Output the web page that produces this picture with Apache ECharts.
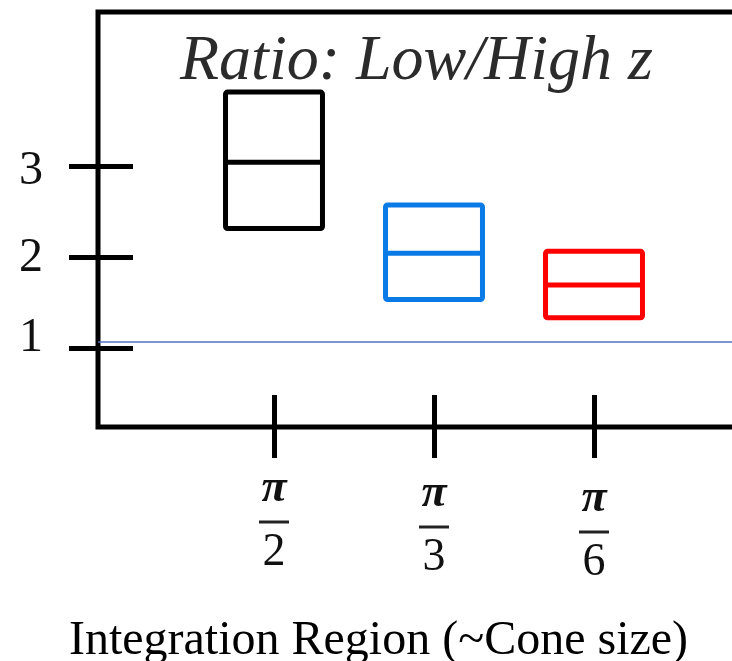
<!DOCTYPE html>
<html>
<head>
<meta charset="utf-8">
<script src="https://cdn.jsdelivr.net/npm/echarts@6/dist/echarts.min.js"></script>
<style>
  html, body { margin: 0; padding: 0; background: #fff; }
  #chart { width: 732px; height: 661px; }
</style>
</head>
<body>
<div id="chart"></div>
<script>
// cone sizes (x positions) and their fraction labels
const categories = ['π/2', 'π/3', 'π/6']
const denominators = ['2', '3', '6']
const xPositions = [1, 2, 3]

// ratio boxes: low edge, middle line, high edge
const boxLow = [2.31, 1.53, 1.33]
const boxMedian = [3.04, 2.04, 1.69]
const boxHigh = [3.81, 2.57, 2.06]
const boxColors = ['#000000', '#0a7be6', '#ff0000']

const yTicks = [1, 2, 3]
const refLine = 1.07

const chart = echarts.init(document.getElementById('chart'))

const serif = 'Liberation Serif'
const halfWidth = 0.303

// small hand offsets so labels sit where the drawing put them
const xLabelSpacer = ['s0', 's1', 's2']
const yLabelTemplate = {
  1: '{n|1}\n{b19| }',
  2: '{t3| }\n{n|2}',
  3: '{t11| }\n{n|3}'
}

const boxData = xPositions.map((x, i) => ({
  value: [x, boxLow[i], boxMedian[i], boxHigh[i]],
  name: categories[i]
}))

function fracLabel(value) {
  const i = xPositions.indexOf(value)
  return '{' + xLabelSpacer[i] + '| }\n{pi|π}\n{bar| }\n{den|' + denominators[i] + '}'
}

const xCommon = {
  type: 'value',
  min: -0.1,
  max: -0.1 + 639 / 160,
  position: 'bottom',
  axisLine: {show: false, onZero: false},
  splitLine: {show: false}
}

const yCommon = {
  type: 'value',
  min: 0.13,
  max: 4.69,
  position: 'left',
  axisLine: {show: false, onZero: false},
  splitLine: {show: false}
}

chart.setOption({
  animation: false,
  backgroundColor: '#fff',
  title: {
    text: 'Ratio: Low/High z',
    left: 175,
    top: 25,
    textStyle: {
      fontFamily: serif,
      fontStyle: 'italic',
      fontWeight: 'normal',
      fontSize: 64,
      color: '#2b2b2b'
    }
  },
  grid: {
    left: 98,
    top: 12,
    width: 639,
    height: 415,
    show: true,
    borderColor: '#000',
    borderWidth: 5,
    outerBoundsMode: 'none'
  },
  xAxis: [
    {
      ...xCommon,
      axisTick: {show: true, inside: true, length: 32, customValues: xPositions,
        lineStyle: {color: '#000', width: 5}},
      axisLabel: {show: false}
    },
    {
      ...xCommon,
      axisTick: {show: true, inside: false, length: 31, customValues: xPositions,
        lineStyle: {color: '#000', width: 5}},
      axisLabel: {
        show: true,
        customValues: xPositions,
        margin: 35,
        formatter: fracLabel,
        rich: {
          s0: {fontSize: 2, lineHeight: 2},
          s1: {fontSize: 2, lineHeight: 7},
          s2: {fontSize: 2, lineHeight: 12},
          pi: {fontFamily: serif, fontStyle: 'italic', fontWeight: 'bold', fontSize: 46, color: '#111', lineHeight: 50},
          bar: {width: 30, height: 3, backgroundColor: '#222', fontSize: 2, lineHeight: 16},
          den: {fontFamily: serif, fontSize: 46, color: '#111', lineHeight: 46}
        }
      },
      name: 'Integration Region (~Cone size)',
      nameLocation: 'middle',
      nameGap: 190,
      nameTextStyle: {
        fontFamily: serif,
        fontSize: 48,
        color: '#000',
        padding: [0, 78, 0, 0]
      }
    }
  ],
  yAxis: [
    {
      ...yCommon,
      axisTick: {show: true, inside: true, length: 35, customValues: yTicks,
        lineStyle: {color: '#000', width: 5}},
      axisLabel: {show: false}
    },
    {
      ...yCommon,
      axisTick: {show: true, inside: false, length: 29, customValues: yTicks,
        lineStyle: {color: '#000', width: 5}},
      axisLabel: {
        show: true,
        customValues: yTicks,
        margin: 55,
        formatter: value => yLabelTemplate[value],
        rich: {
          n: {fontFamily: serif, fontSize: 48, color: '#111', lineHeight: 48},
          t3: {fontSize: 2, lineHeight: 3},
          t11: {fontSize: 2, lineHeight: 11},
          b19: {fontSize: 2, lineHeight: 19}
        }
      }
    }
  ],
  series: [
    {
      type: 'custom',
      xAxisIndex: 0,
      yAxisIndex: 0,
      data: boxData,
      renderItem: function (params, api) {
        const x = api.value(0)
        const top = api.coord([x - halfWidth, api.value(3)])
        const bottom = api.coord([x + halfWidth, api.value(1)])
        const midL = api.coord([x - halfWidth, api.value(2)])
        const midR = api.coord([x + halfWidth, api.value(2)])
        const color = boxColors[params.dataIndex]
        return {
          type: 'group',
          children: [
            {
              type: 'rect',
              shape: {x: top[0], y: top[1], width: bottom[0] - top[0], height: bottom[1] - top[1], r: 2},
              style: {fill: 'none', stroke: color, lineWidth: 5, lineJoin: 'round'}
            },
            {
              type: 'line',
              shape: {x1: midL[0], y1: midL[1], x2: midR[0], y2: midR[1]},
              style: {stroke: color, lineWidth: 5}
            }
          ]
        }
      },
      markLine: {
        silent: true,
        symbol: 'none',
        label: {show: false},
        lineStyle: {color: '#5470c6', width: 1.5, type: 'solid', opacity: 1},
        data: [{yAxis: refLine}]
      }
    }
  ]
})
</script>
</body>
</html>
